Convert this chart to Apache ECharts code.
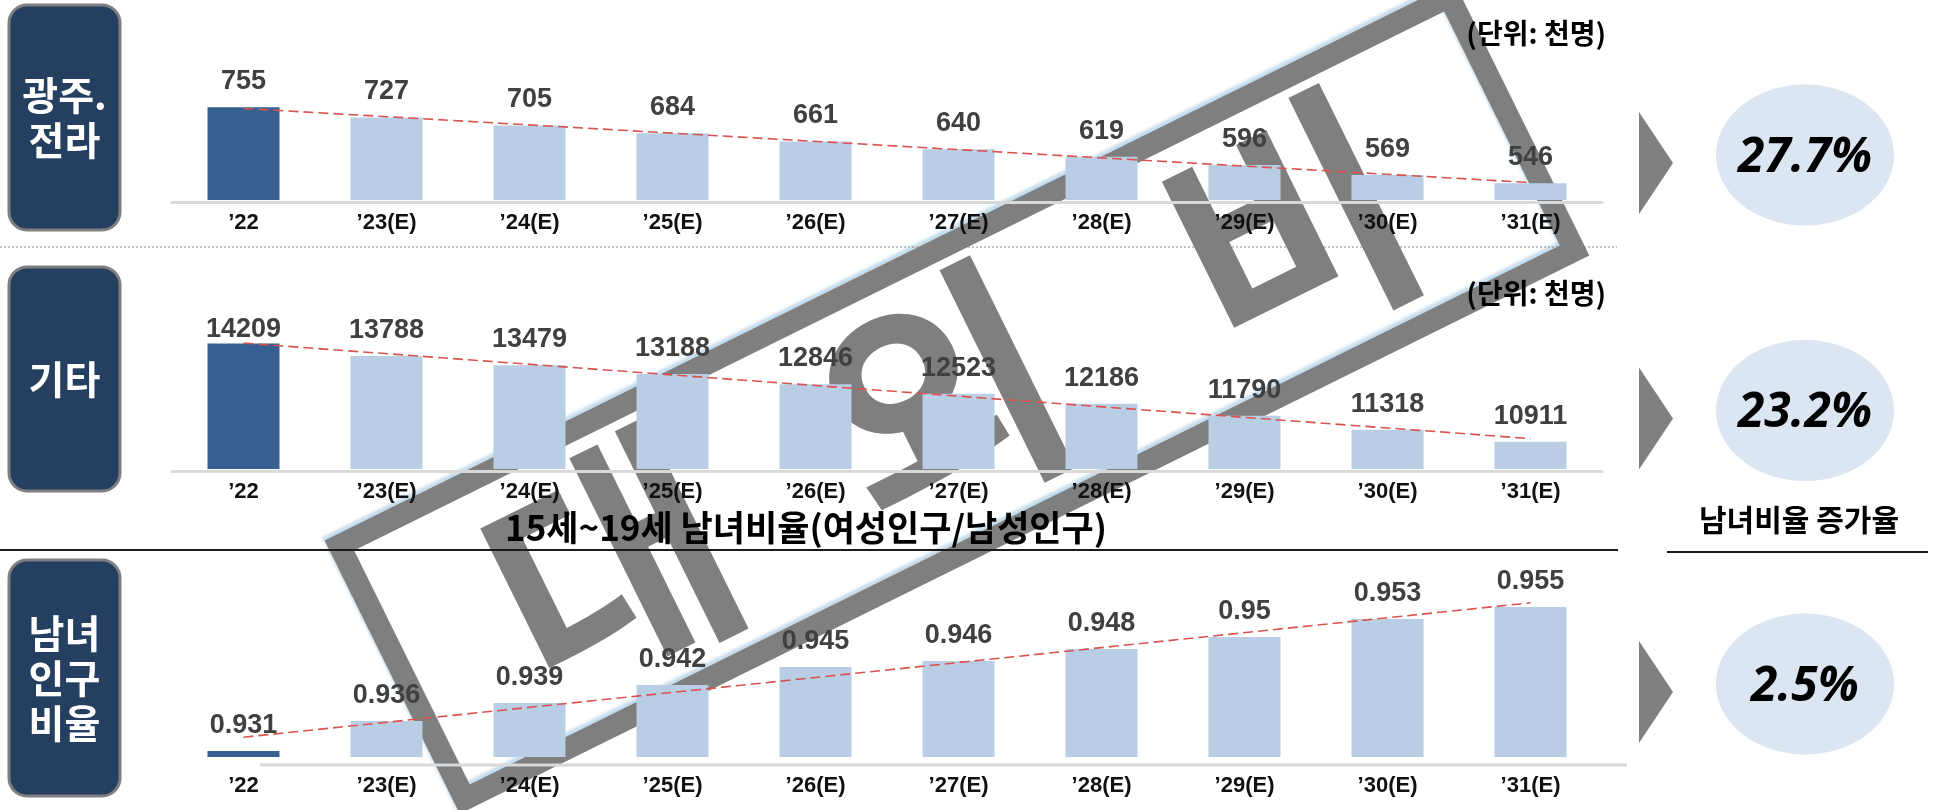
<!DOCTYPE html>
<html>
<head>
<meta charset="utf-8">
<script src="https://cdn.jsdelivr.net/npm/echarts@6/dist/echarts.min.js"></script>
<style>
html,body{margin:0;padding:0;background:#fff;}
#main{width:1941px;height:810px;}
</style>
</head>
<body>
<div id="main"></div>
<script>
var years = ['’22','’23(E)','’24(E)','’25(E)','’26(E)','’27(E)','’28(E)','’29(E)','’30(E)','’31(E)'];	//연도
var gjValues = [755,727,705,684,661,640,619,596,569,546];					//광주.전라 (천명)
var etcValues = [14209,13788,13479,13188,12846,12523,12186,11790,11318,10911];	//기타 (천명)
var ratioValues = [0.931,0.936,0.939,0.942,0.945,0.946,0.948,0.95,0.953,0.955];	//남녀인구비율
// 추세선 시작/끝 값
var gjTrend = [752,548];
var etcTrend = [14226,11020];
var ratioTrend = [0.9333,0.9557];
var rates = ['27.7%','23.2%','2.5%'];
var sideNames = ['광주.\n전라','기타','남녀\n인구\n비율'];
var unitText = '(단위: 천명)';
var ratioTitle = '15세~19세 남녀비율(여성인구/남성인구)';
var rateTitle = '남녀비율 증가율';
var stampChars = ['대','외','비'];

var NARROW = '"Liberation Sans Narrow","Arial Narrow","Liberation Sans",sans-serif';
var KR = '"Noto Sans CJK KR","Noto Sans",sans-serif';

// 패널 배치
var panels = [
	{values:gjValues, trend:gjTrend, top:91, height:109, min:500, max:800, axisLine:true, margin:10},
	{values:etcValues, trend:etcTrend, top:320, height:149, min:10000, max:15000, axisLine:true, margin:10},
	{values:ratioValues, trend:ratioTrend, top:577, height:180, min:0.93, max:0.96, axisLine:false, margin:16}
];

var grids = [], xAxes = [], yAxes = [], series = [];
for(var i=0;i<panels.length;i++){
	var p = panels[i];
	grids.push({left:172, width:1430, top:p.top, height:p.height});
	xAxes.push({
		type:'category', gridIndex:i, data:years, offset:2,
		axisTick:{show:false},
		axisLine:{show:p.axisLine, lineStyle:{color:'#d9d9d9', width:3}},
		axisLabel:{fontSize:22, fontWeight:'bold', color:'#111', margin:p.margin, fontFamily:NARROW}
	});
	yAxes.push({type:'value', gridIndex:i, min:p.min, max:p.max, show:false});
	var barData = p.values.map(function(v,k){
		var item = {value:v, itemStyle:{color: k==0 ? '#366092' : '#b9cde5'}};
		// 첫 막대 라벨이 위쪽에 붙어 있음 (기타)
		if(i==1 && k==0) item.label = {distance:1};
		return item;
	});
	series.push({
		type:'bar', xAxisIndex:i, yAxisIndex:i, barWidth:72, data:barData, z:3,
		label:{show:true, position:'top', distance:12, fontSize:27, fontWeight:'bold', color:'#404040', fontFamily:NARROW}
	});
	series.push({
		type:'line', xAxisIndex:i, yAxisIndex:i, z:4, symbol:'none', silent:true,
		data:[[0,p.trend[0]],[years.length-1,p.trend[1]]],
		lineStyle:{color:'#d9534f', width:1.6, type:[10,5]}
	});
}

// 왼쪽 박스, 오른쪽 화살표/원
var boxes = [[5,225],[267,224],[560,236]];
var centersY = [163,418.5,692];
var graphics = [];

// 대외비 도장
var stamp = {type:'group', x:957, y:398, rotation:26.3*Math.PI/180, z:0, children:[
	{type:'rect', shape:{x:-619, y:-141.5, width:1238, height:283},
	 style:{fill:'none', stroke:'#7f7f7f', lineWidth:22, shadowBlur:3, shadowColor:'#c5dcec', shadowOffsetX:-3, shadowOffsetY:-3}}
]};
var stampU = [-385,-15,375];
for(var s=0;s<stampChars.length;s++){
	stamp.children.push({type:'text', x:stampU[s], y:-5,
		style:{text:stampChars[s], font:'bold 255px ' + KR, fill:'#7f7f7f', align:'center', verticalAlign:'middle',
			shadowBlur:3, shadowColor:'#c5dcec', shadowOffsetX:-3, shadowOffsetY:-3}});
}
graphics.push(stamp);

for(var b=0;b<3;b++){
	graphics.push({type:'rect', z:10, shape:{x:9, y:boxes[b][0], width:111, height:boxes[b][1], r:18},
		style:{fill:'#243f60', stroke:'#7f7f7f', lineWidth:3}});
	graphics.push({type:'text', z:11, x:64.5, y:boxes[b][0] + boxes[b][1]/2,
		style:{text:sideNames[b], font:'bold 39px ' + KR, lineHeight:45, fill:'#fff', align:'center', verticalAlign:'middle'}});
	var cy = centersY[b];
	graphics.push({type:'polygon', z:10, shape:{points:[[1639,cy-51],[1673,cy],[1639,cy+51]]}, style:{fill:'#808080'}});
	graphics.push({type:'ellipse', z:10, shape:{cx:1805, cy:cy-8, rx:89, ry:70.5}, style:{fill:'#dce6f2'}});
	graphics.push({type:'text', z:11, x:1805, y:cy-5,
		style:{text:rates[b], font:'italic bold 48px "Noto Sans",sans-serif', fill:'#000', align:'center', verticalAlign:'middle'}});
}

// 단위 / 제목
graphics.push({type:'text', z:11, x:1606, y:33, style:{text:unitText, font:'bold 28px ' + KR, fill:'#000', align:'right', verticalAlign:'middle'}});
graphics.push({type:'text', z:11, x:1606, y:293, style:{text:unitText, font:'bold 28px ' + KR, fill:'#000', align:'right', verticalAlign:'middle'}});
graphics.push({type:'text', z:11, x:806, y:528, style:{text:ratioTitle, font:'bold 35px ' + KR, fill:'#000', align:'center', verticalAlign:'middle'}});
graphics.push({type:'text', z:11, x:1799, y:520, style:{text:rateTitle, font:'bold 30px ' + KR, fill:'#000', align:'center', verticalAlign:'middle'}});

// 구분선
graphics.push({type:'line', z:10, shape:{x1:0, y1:247, x2:1617, y2:247}, style:{stroke:'#888', lineWidth:1, lineDash:[2,2]}});
graphics.push({type:'line', z:10, shape:{x1:0, y1:550, x2:1618, y2:550}, style:{stroke:'#1a1a1a', lineWidth:2}});
graphics.push({type:'line', z:10, shape:{x1:1667, y1:552, x2:1928, y2:552}, style:{stroke:'#1a1a1a', lineWidth:2}});
// 세번째 패널 축선 (막대 아래로 떨어져 있음)
graphics.push({type:'line', z:1, shape:{x1:260, y1:765, x2:1627, y2:765}, style:{stroke:'#d9d9d9', lineWidth:3}});

var myChart = echarts.init(document.getElementById('main'));
var option = {
	animation:false,
	backgroundColor:'#fff',
	grid:grids,
	xAxis:xAxes,
	yAxis:yAxes,
	series:series,
	graphic:graphics
};
myChart.setOption(option);
</script>
</body>
</html>
